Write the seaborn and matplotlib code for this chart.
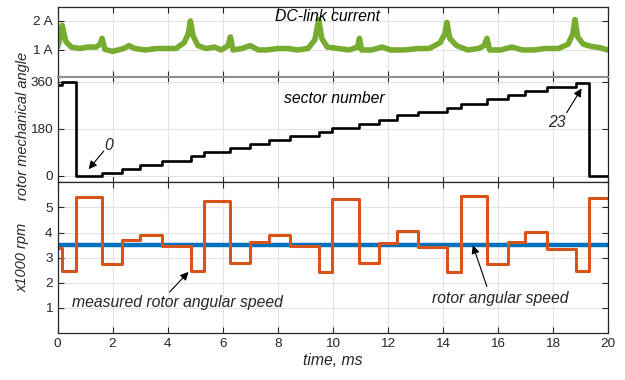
import matplotlib
matplotlib.use("Agg")
import matplotlib.pyplot as plt
import seaborn as sns
import pandas as pd

# ---------------- data ----------------
# DC-link current (A), sampled envelope of the measured trace
cur_t = [0, 0.08, 0.17, 0.3, 0.5, 0.8, 1.1, 1.4, 1.55, 1.62, 1.72, 2.0, 2.4, 2.6, 2.8,
         3.2, 3.6, 4.0, 4.3, 4.6, 4.75, 4.83, 4.92, 5.1, 5.4, 5.7, 5.95, 6.2, 6.28, 6.38,
         6.7, 7.0, 7.3, 7.6, 8.0, 8.4, 8.7, 9.1, 9.35, 9.49, 9.6, 9.8, 10.2, 10.6, 10.9,
         10.97, 11.05, 11.4, 11.8, 12.1, 12.6, 13.1, 13.5, 13.9, 14.07, 14.15, 14.25, 14.5,
         14.9, 15.3, 15.5, 15.6, 15.7, 16.1, 16.5, 16.9, 17.3, 17.7, 18.2, 18.55, 18.72,
         18.8, 18.9, 19.1, 19.4, 19.7, 20]
cur_v = [1.1, 1.35, 1.85, 1.3, 1.1, 1.05, 1.1, 1.1, 1.2, 1.4, 1.02, 0.95, 1.05, 1.15, 1.05,
         1.0, 1.05, 1.05, 1.05, 1.25, 1.55, 2.0, 1.5, 1.15, 1.05, 1.1, 1.0, 1.15, 1.45, 1.0,
         1.05, 1.15, 1.0, 1.0, 1.05, 1.05, 1.0, 1.05, 1.35, 2.05, 1.4, 1.1, 1.05, 1.0, 1.1,
         1.4, 1.0, 1.0, 1.1, 1.0, 1.0, 1.05, 1.05, 1.25, 1.55, 1.95, 1.4, 1.15,
         1.0, 1.05, 1.15, 1.4, 1.0, 1.0, 1.1, 1.0, 1.0, 1.05, 1.05, 1.2, 1.55,
         2.05, 1.45, 1.2, 1.12, 1.08, 1.0]

# switching instants (ms) shared by angle and measured speed
step_t = [0, 0.17, 0.69, 1.62, 2.35, 3.01, 3.78, 4.85, 5.31, 6.28, 7.01, 7.67, 8.43,
          9.49, 9.99, 10.94, 11.69, 12.33, 13.08, 14.14, 14.65, 15.6, 16.35, 16.99,
          17.77, 18.84, 19.32, 20]
angle_v = [347, 360, 0, 10, 27, 43, 59, 76, 92, 106, 123, 136, 152,
           168, 183, 199, 214, 233, 245, 260, 276, 293, 308, 324,
           339, 355, 0, 0]
speed_v = [3.39, 2.48, 5.42, 2.74, 3.69, 3.89, 3.45, 2.47, 5.25, 2.77, 3.62, 3.92, 3.47,
           2.44, 5.35, 2.77, 3.58, 4.08, 3.43, 2.44, 5.46, 2.73, 3.64, 4.04,
           3.36, 2.47, 5.39, 5.39]
ref_t = [0, 20]
ref_v = [3.5, 3.5]

x_ticks = [0, 2, 4, 6, 8, 10, 12, 14, 16, 18, 20]
cur_ticks = [1, 2]
cur_ticklabels = ["1 A", "2 A"]
angle_ticks = [0, 180, 360]
speed_ticks = [1, 2, 3, 4, 5]

df_cur = pd.DataFrame({"t": cur_t, "v": cur_v})
df_ang = pd.DataFrame({"t": step_t, "v": angle_v})
df_spd = pd.DataFrame({"t": step_t, "v": speed_v})
df_ref = pd.DataFrame({"t": ref_t, "v": ref_v})

# ---------------- style ----------------
sns.set_style("ticks")
plt.rcParams["font.family"] = ["Liberation Sans", "DejaVu Sans"]
plt.rcParams["axes.edgecolor"] = "#262626"
plt.rcParams["xtick.color"] = "#262626"
plt.rcParams["ytick.color"] = "#262626"

GREEN = "#77AC30"
ORANGE = "#D95319"
BLUE = "#0072BD"
TXT = "#262626"

fig = plt.figure(figsize=(6.25, 3.8), dpi=100)
L, R = 0.092, 0.9728
ax1 = fig.add_axes([L, 0.7982, R - L, 0.9816 - 0.7982])
ax2 = fig.add_axes([L, 0.5203, R - L, 0.7982 - 0.5203])
ax3 = fig.add_axes([L, 0.1237, R - L, 0.5203 - 0.1237])

sns.lineplot(data=df_cur, x="t", y="v", ax=ax1, color=GREEN, lw=4.0, estimator=None,
             sort=False, solid_joinstyle="round")
sns.lineplot(data=df_ang, x="t", y="v", ax=ax2, color="black", lw=1.9, estimator=None,
             sort=False, drawstyle="steps-post")
sns.lineplot(data=df_ref, x="t", y="v", ax=ax3, color=BLUE, lw=3.2, estimator=None,
             sort=False)
sns.lineplot(data=df_spd, x="t", y="v", ax=ax3, color=ORANGE, lw=2.2, estimator=None,
             sort=False, drawstyle="steps-post")

for ax in (ax1, ax2, ax3):
    ax.set_xlim(0, 20)
    ax.set_xticks(x_ticks)
    ax.grid(True, color="#e3e3e3", lw=0.8)
    ax.set_axisbelow(True)
    ax.tick_params(direction="in", top=True, right=True, length=4, width=0.8,
                   labelsize=9.7, labelcolor=TXT)
    ax.set_xlabel("")
    ax.set_ylabel("")
    for s in ax.spines.values():
        s.set_linewidth(0.9)
        s.set_visible(True)

ax1.set_ylim(0.08, 2.48)
ax1.set_yticks(cur_ticks)
ax1.set_yticklabels(cur_ticklabels)
ax1.tick_params(labelbottom=False)
ax1.spines["bottom"].set_color("#909090")
ax1.spines["bottom"].set_linewidth(1.5)

ax2.set_ylim(-24, 379)
ax2.set_yticks(angle_ticks)
ax2.tick_params(labelbottom=False)
ax2.spines["top"].set_color("#909090")
ax2.spines["top"].set_linewidth(1.5)
ax2.set_ylabel("rotor mechanical angle", fontsize=10.5, style="italic", color=TXT)

ax3.set_ylim(0, 6)
ax3.set_yticks(speed_ticks)
ax3.set_ylabel("x1000 rpm", fontsize=10.5, style="italic", color=TXT)
ax3.set_xlabel("time, ms", fontsize=11.3, style="italic", color=TXT, labelpad=2)

ax2.yaxis.set_label_coords(-0.05, 0.53)
ax3.yaxis.set_label_coords(-0.05, 0.5)

# ---------------- annotations ----------------
tfs = 11.3
ax1.text(9.8, 2.14, "DC-link current", fontsize=tfs, style="italic", color="black",
         ha="center", va="center")
ax2.text(10.05, 297, "sector number", fontsize=tfs, style="italic", color="black",
         ha="center", va="center")
arr = dict(arrowstyle="-|>", color="black", lw=0.8, mutation_scale=12,
           shrinkA=0, shrinkB=0)
ax2.text(1.85, 117, "0", fontsize=tfs, style="italic", ha="center", va="center")
ax2.annotate("", xy=(1.13, 26), xytext=(1.68, 95), arrowprops=arr)
ax2.text(18.14, 205, "23", fontsize=tfs, style="italic", ha="center", va="center")
ax2.annotate("", xy=(19.04, 334), xytext=(18.5, 242), arrowprops=arr)

ax3.text(4.37, 1.21, "measured rotor angular speed", fontsize=tfs, style="italic",
         ha="center", va="center")
ax3.annotate("", xy=(4.76, 2.43), xytext=(4.07, 1.63), arrowprops=arr)
ax3.text(16.1, 1.37, "rotor angular speed", fontsize=tfs, style="italic",
         ha="center", va="center")
ax3.annotate("", xy=(15.09, 3.49), xytext=(15.6, 1.85), arrowprops=arr)

fig.savefig("out.png", dpi=100)
